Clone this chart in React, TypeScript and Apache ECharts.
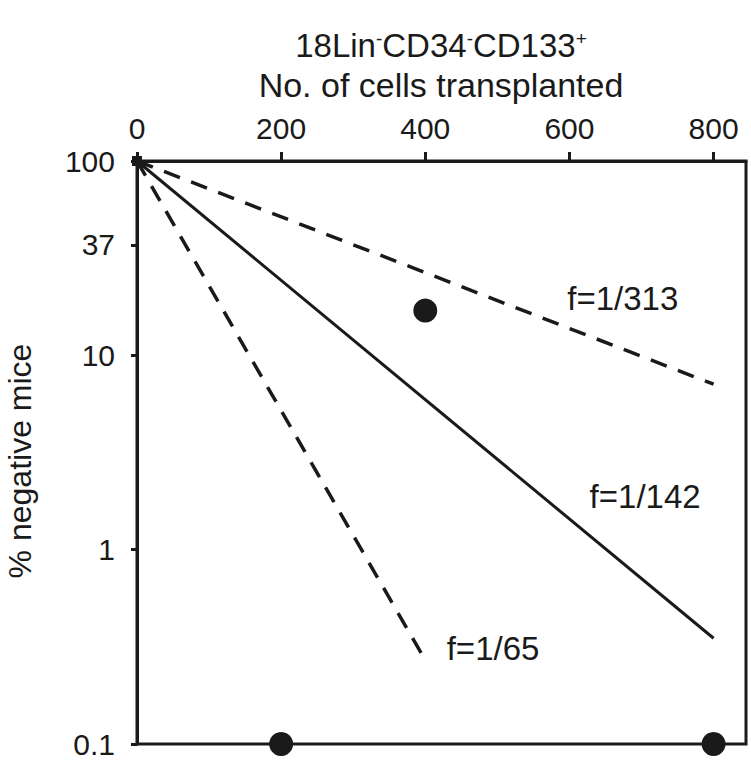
import React, { useEffect, useRef } from "react";
import * as echarts from "echarts";

const xTicks = [0, 200, 400, 600, 800];
const yTicks = [0.1, 1, 10, 37, 100];
const solidLine = [[0, 100], [800, 0.35]];
const dashedUpper = [[0, 100], [800, 7.1]];
const dashedLower = [[0, 100], [400, 0.27]];
const bigPoints = [[400, 17], [200, 0.1], [800, 0.1]];
const originPoint = [[0, 100]];
const fLabels = [
  { name: "f=1/313", value: [674, 19.7] },
  { name: "f=1/142", value: [705, 1.87] },
  { name: "f=1/65", value: [494, 0.31] },
];

const FONT = "'Liberation Sans', Arial, Helvetica, sans-serif";
const INK = "#1a1a1a";

export default function App() {
  const ref = useRef<HTMLDivElement>(null);
  useEffect(() => {
    document.body.style.margin = "0";
    if (!ref.current) return;
    const chart = echarts.init(ref.current, null, { renderer: "svg" });
    chart.setOption({
      animation: false,
      textStyle: { fontFamily: FONT, color: INK },
      grid: {
        left: 137,
        right: 5,
        top: 161,
        bottom: 19,
        show: true,
        borderColor: INK,
        borderWidth: 3,
      },
      graphic: [
        {
          type: "text",
          x: 441,
          y: 45,
          style: {
            text: "{n|18Lin}{s|-}{n|CD34}{s|-}{n|CD133}{s|+}",
            align: "center",
            verticalAlign: "middle",
            rich: {
              n: { fontSize: 33, fontFamily: FONT, fill: INK, color: INK },
              s: { fontSize: 19, fontFamily: FONT, fill: INK, color: INK, verticalAlign: "top" },
            },
          },
        },
        {
          type: "text",
          x: 441,
          y: 85,
          style: {
            text: "No. of cells transplanted",
            fontSize: 34,
            fontFamily: FONT,
            fill: INK,
            align: "center",
            verticalAlign: "middle",
          },
        },
        {
          type: "text",
          x: 20,
          y: 461,
          rotation: Math.PI / 2,
          style: {
            text: "% negative mice",
            fontSize: 32,
            fontFamily: FONT,
            fill: INK,
            align: "center",
            verticalAlign: "middle",
          },
        },
      ],
      xAxis: {
        type: "value",
        position: "top",
        min: 0,
        max: 845,
        interval: 200,
        splitLine: { show: false },
        axisLine: { show: true, lineStyle: { color: INK, width: 3 } },
        axisTick: {
          show: true,
          length: 9,
          lineStyle: { color: INK, width: 3 },
          customValues: xTicks,
        },
        axisLabel: {
          fontSize: 30,
          color: INK,
          fontFamily: FONT,
          margin: 18,
          customValues: xTicks,
        },
      },
      yAxis: {
        type: "log",
        logBase: 10,
        min: 0.1,
        max: 100,
        splitLine: { show: false },
        minorTick: { show: false },
        axisLine: { show: true, lineStyle: { color: INK, width: 3 } },
        axisTick: {
          show: true,
          length: 6,
          lineStyle: { color: INK, width: 3 },
          customValues: yTicks,
        },
        axisLabel: {
          fontSize: 30,
          color: INK,
          fontFamily: FONT,
          margin: 22,
          customValues: yTicks,
          formatter: (v: number) => String(v),
        },
      },
      series: [
        {
          type: "line",
          data: solidLine,
          showSymbol: false,
          lineStyle: { color: INK, width: 3 },
          z: 3,
        },
        {
          type: "line",
          data: dashedUpper,
          showSymbol: false,
          lineStyle: { color: INK, width: 3.5, type: [17, 12] },
          z: 3,
        },
        {
          type: "line",
          data: dashedLower,
          showSymbol: false,
          lineStyle: { color: INK, width: 3.5, type: [17, 12] },
          z: 3,
        },
        {
          type: "scatter",
          data: bigPoints,
          symbol: "circle",
          symbolSize: 24,
          itemStyle: { color: INK, opacity: 1 },
          clip: false,
          z: 5,
        },
        {
          type: "scatter",
          data: originPoint,
          symbol: "rect",
          symbolSize: 10,
          itemStyle: { color: INK, opacity: 1 },
          clip: false,
          z: 5,
        },
        {
          type: "scatter",
          data: fLabels,
          symbolSize: 0,
          silent: true,
          itemStyle: { opacity: 1 },
          label: {
            show: true,
            position: "inside",
            formatter: (p: any) => p.name,
            fontSize: 33,
            color: INK,
            opacity: 1,
            fontFamily: FONT,
          },
          z: 6,
        },
      ],
    });
    return () => chart.dispose();
  }, []);
  return <div ref={ref} style={{ width: 751, height: 763 }} />;
}
